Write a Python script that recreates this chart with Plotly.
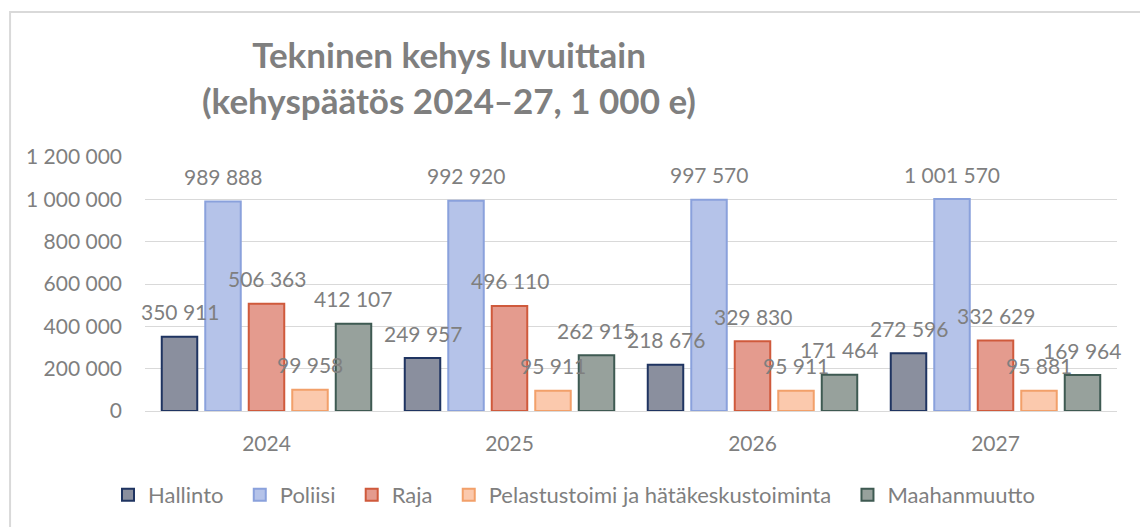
import plotly.graph_objects as go

years = ["2024", "2025", "2026", "2027"]
series_names = ["Hallinto", "Poliisi", "Raja", "Pelastustoimi ja hätäkeskustoiminta", "Maahanmuutto"]
hallinto = [350911, 249957, 218676, 272596]
poliisi = [989888, 992920, 997570, 1001570]
raja = [506363, 496110, 329830, 332629]
pelastus = [99958, 95911, 95911, 95881]
maahanmuutto = [412107, 262915, 171464, 169964]
y_ticks = [0, 200000, 400000, 600000, 800000, 1000000, 1200000]

values = [hallinto, poliisi, raja, pelastus, maahanmuutto]
fills = ["#8a8f9e", "#b5c3e9", "#e49b8e", "#fbc9ad", "#97a19c"]
edges = ["#1f3461", "#8aa1dc", "#cf5a3c", "#f2a06a", "#3e5a52"]

BARGAP = 0.105
GROUPGAP = 0.184
GRAY = "#7f7f7f"
FONT = "Lato"

def fmt(v):
    return f"{v:,}".replace(",", " ")

x_idx = list(range(len(years)))
fig = go.Figure()
for name, vals, fc, ec in zip(series_names, values, fills, edges):
    fig.add_trace(go.Bar(
        name=name + "\u00a0" * 2, x=x_idx, y=vals,
        marker=dict(color=fc, line=dict(color=ec, width=2)),
        hoverinfo="skip",
    ))

n = len(series_names)
slot = (1 - BARGAP) / n
annotations = []
for i, vals in enumerate(values):
    for k, v in enumerate(vals):
        annotations.append(dict(
            x=k + (i - (n - 1) / 2) * slot, y=v, xref="x", yref="y",
            text=fmt(v), showarrow=False, yanchor="middle", yshift=25,
            font=dict(family=FONT, size=21, color=GRAY),
        ))

# chart-area border (Excel style)
W, H = 1140, 527
ML, MR, MT, MB = 145, 22.5, 157, 116
pw, ph = W - ML - MR, H - MT - MB
shapes = [dict(
    type="rect", xref="paper", yref="paper",
    x0=(10 - ML) / pw, x1=(W + 20 - ML) / pw,
    y0=-(H + 20 - MT - ph) / ph, y1=1 + (MT - 12) / ph,
    line=dict(color="#d9d9d9", width=2), fillcolor="rgba(0,0,0,0)", layer="below",
)]

fig.update_layout(
    width=W, height=H,
    margin=dict(l=ML, r=MR, t=MT, b=MB),
    paper_bgcolor="white", plot_bgcolor="white",
    barmode="group", bargap=BARGAP, bargroupgap=GROUPGAP,
    separators=", ",
    font=dict(family=FONT, size=21, color=GRAY),
    title=dict(
        text="Tekninen kehys luvuittain<br>(kehyspäätös 2024\u201227, 1 000 e)",
        x=449 / W, xanchor="center", y=1 - 68 / H, yanchor="middle",
        font=dict(family=FONT, size=35, color=GRAY, weight="bold"),
    ),
    xaxis=dict(
        tickmode="array", tickvals=x_idx, ticktext=years,
        range=[-0.5, len(years) - 0.5],
        showgrid=False, showline=True, linecolor="#d9d9d9", linewidth=1,
        ticks="", ticklabelstandoff=14,
        tickfont=dict(family=FONT, size=21, color=GRAY),
    ),
    yaxis=dict(
        range=[0, 1200000], tickvals=y_ticks, tickformat=",d",
        showgrid=True, gridcolor="#d9d9d9", gridwidth=1,
        zeroline=False, showline=False, ticks="", ticklabelstandoff=22,
        tickfont=dict(family=FONT, size=21, color=GRAY),
    ),
    legend=dict(
        orientation="h", xref="container", yref="container",
        x=580 / W, xanchor="center", y=1 - 495 / H, yanchor="middle",
        font=dict(family=FONT, size=22, color=GRAY),
        itemwidth=30, tracegroupgap=0,
    ),
    annotations=annotations,
    shapes=shapes,
)

fig.write_html("out.html")
